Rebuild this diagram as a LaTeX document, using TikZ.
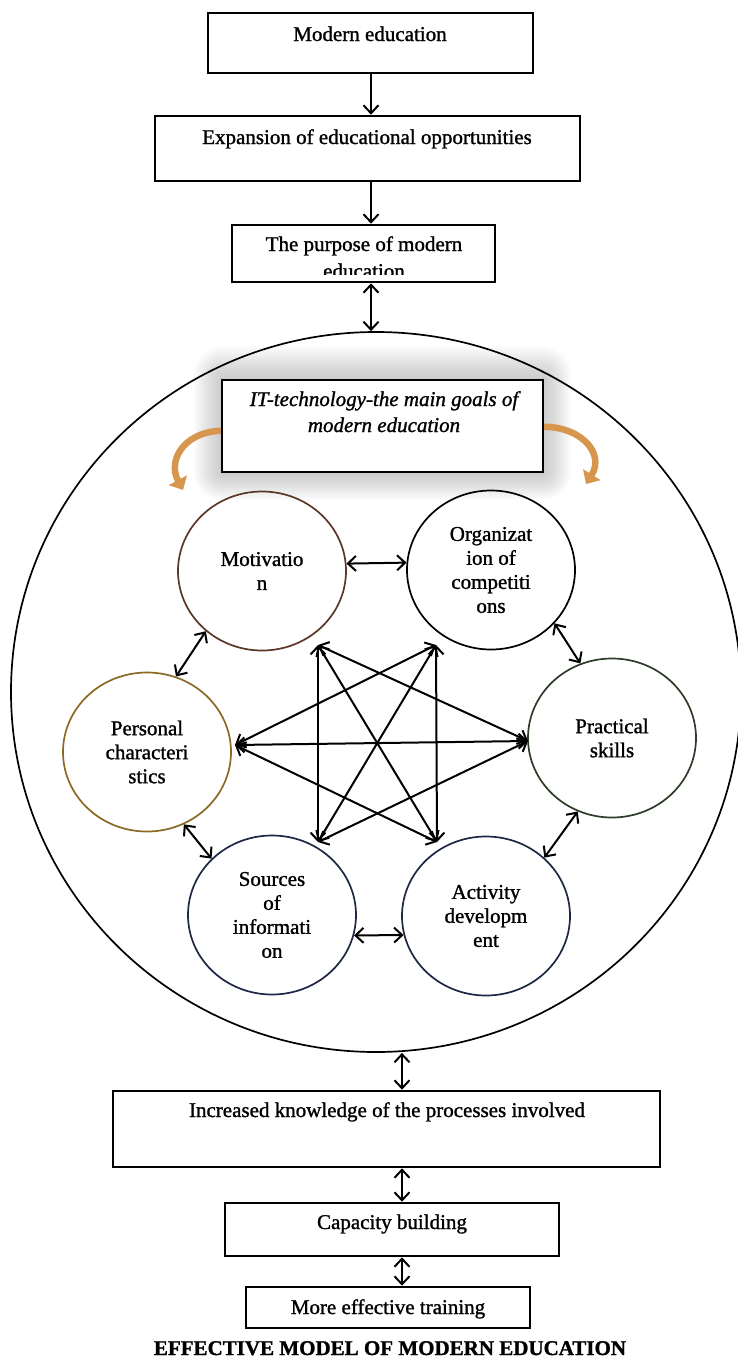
\documentclass[tikz,border=0pt]{standalone}
\usepackage{fontspec}
\setmainfont{Liberation Serif}[FakeBold=1.2]
\usetikzlibrary{arrows.meta,shapes.geometric}
\definecolor{motc}{RGB}{90,55,40}
\definecolor{persc}{RGB}{140,105,35}
\definecolor{pracc}{RGB}{45,60,40}
\definecolor{navc}{RGB}{30,40,70}
\definecolor{orc}{RGB}{214,150,78}
\tikzset{
  vtip/.tip={Straight Barb[length=8pt,width=15pt]},
  boxst/.style={draw, rectangle, line width=2.6pt, inner sep=0pt, fill=white},
  circst/.style={ellipse, draw, line width=1.7pt, minimum width=168pt, minimum height=159pt, inner sep=0pt, align=center, font=\fontsize{21}{24}\selectfont},
  arr/.style={line width=2pt, -vtip},
  darr/.style={line width=2pt, vtip-vtip},
  lbl/.style={anchor=base, inner sep=0pt},
  orarrow/.style={draw=orc, line width=6.5pt, -{Triangle[length=11pt,width=20pt,fill=orc]}},
}
\begin{document}
\begin{tikzpicture}[x=1pt,y=-1pt,font=\fontsize{21}{24}\selectfont]
\useasboundingbox (0,0) rectangle (738,1360);

% top boxes
\node[boxst, minimum width=325pt, minimum height=60pt] (b1) at (370.5,43) {};
\node[lbl] (t1) at (370,41) {Modern education};
\node[boxst, minimum width=425pt, minimum height=65pt] (b2) at (367.5,148.5) {};
\node[lbl] (t2) at (367,144) {Expansion of educational opportunities};
\node[boxst, minimum width=263pt, minimum height=57pt] (b3) at (363.5,253.5) {};
\node[lbl] (t3) at (364,251) {The purpose of modern};
\begin{scope}
  \clip (233,226) rectangle (494,274);
  \node[lbl] (t3b) at (364,278) {education};
\end{scope}

\coordinate (ax) at (371,0);
\coordinate (bx) at (402,0);

% halo of IT box
\foreach \d in {2,4,...,28} {
  \fill[black, opacity=0.017, rounded corners=\d pt] (222-\d,380-1.2*\d) rectangle (543+\d,472+\d);
}

% big ellipse
\node[ellipse, draw, line width=1.7pt, minimum width=730pt, minimum height=720pt, inner sep=0pt] (big) at (376,692) {};

% orange curved arrows
\draw[orarrow] (228,431) .. controls (188,428) and (166,458) .. (183,490);
\draw[orarrow] (538,427) .. controls (578,424) and (606,452) .. (586,484);

% IT box
\node[boxst, minimum width=321pt, minimum height=92pt] (it) at (382.5,426) {};
\node[lbl] (it1) at (384,406) {\itshape IT-technology-the main goals of};
\node[lbl] (it2) at (384,432) {\itshape modern education};

% arrows top
\draw[arr] (b1.south -| ax) -- (b2.north -| ax);
\draw[arr] (b2.south -| ax) -- (b3.north -| ax);
\draw[darr] (b3.south -| ax) -- (big.north -| ax);

% circles
\node[circst, draw=motc] (mot) at (262,571) {Motivatio\\n};
\node[circst, draw=black] (org) at (491,570) {Organizat\\ion of\\competiti\\ons};
\node[circst, draw=persc] (pers) at (147,752) {Personal\\characteri\\stics};
\node[circst, draw=pracc] (prac) at (612,738) {Practical\\skills};
\node[circst, draw=navc] (src) at (272,915) {Sources\\of\\informati\\on};
\node[circst, draw=navc] (act) at (486,916) {Activity\\developm\\ent};

% ring arrows
\draw[darr] (mot.5) -- (org.175);
\draw[darr] (mot.227) -- (pers.69);
\draw[darr] (org.320) -- (prac.113);
\draw[darr] (pers.297) -- (src.137);
\draw[darr] (prac.245) -- (act.45);
\draw[darr] (src.346) -- (act.193);

% star
\coordinate (pM) at (318,645);
\coordinate (pO) at (436,645);
\coordinate (pL) at (235,745);
\coordinate (pR) at (528,741);
\coordinate (pS) at (318,842);
\coordinate (pA) at (437,842);
\draw[darr] (pM) -- (pS);
\draw[darr] (pM) -- (pR);
\draw[darr] (pM) -- (pA);
\draw[darr] (pO) -- (pA);
\draw[darr] (pO) -- (pL);
\draw[darr] (pO) -- (pS);
\draw[darr] (pL) -- (pR);
\draw[darr] (pL) -- (pA);
\draw[darr] (pR) -- (pS);

% bottom boxes
\node[boxst, minimum width=547pt, minimum height=76pt] (b4) at (386.5,1129) {};
\node[lbl] (t4) at (387,1117) {Increased knowledge of the processes involved};
\node[boxst, minimum width=334pt, minimum height=53pt] (b5) at (392,1229.5) {};
\node[lbl] (t5) at (392,1229) {Capacity building};
\node[boxst, minimum width=284pt, minimum height=41pt] (b6) at (388,1307.5) {};
\node[lbl] (t6) at (388,1314) {More effective training};
\node[lbl] (title) at (390,1355) {\bfseries EFFECTIVE MODEL OF MODERN EDUCATION};

\draw[darr] (big.south -| bx) -- (b4.north -| bx);
\draw[darr] (b4.south -| bx) -- (b5.north -| bx);
\draw[darr] (b5.south -| bx) -- (b6.north -| bx);
\end{tikzpicture}
\end{document}
